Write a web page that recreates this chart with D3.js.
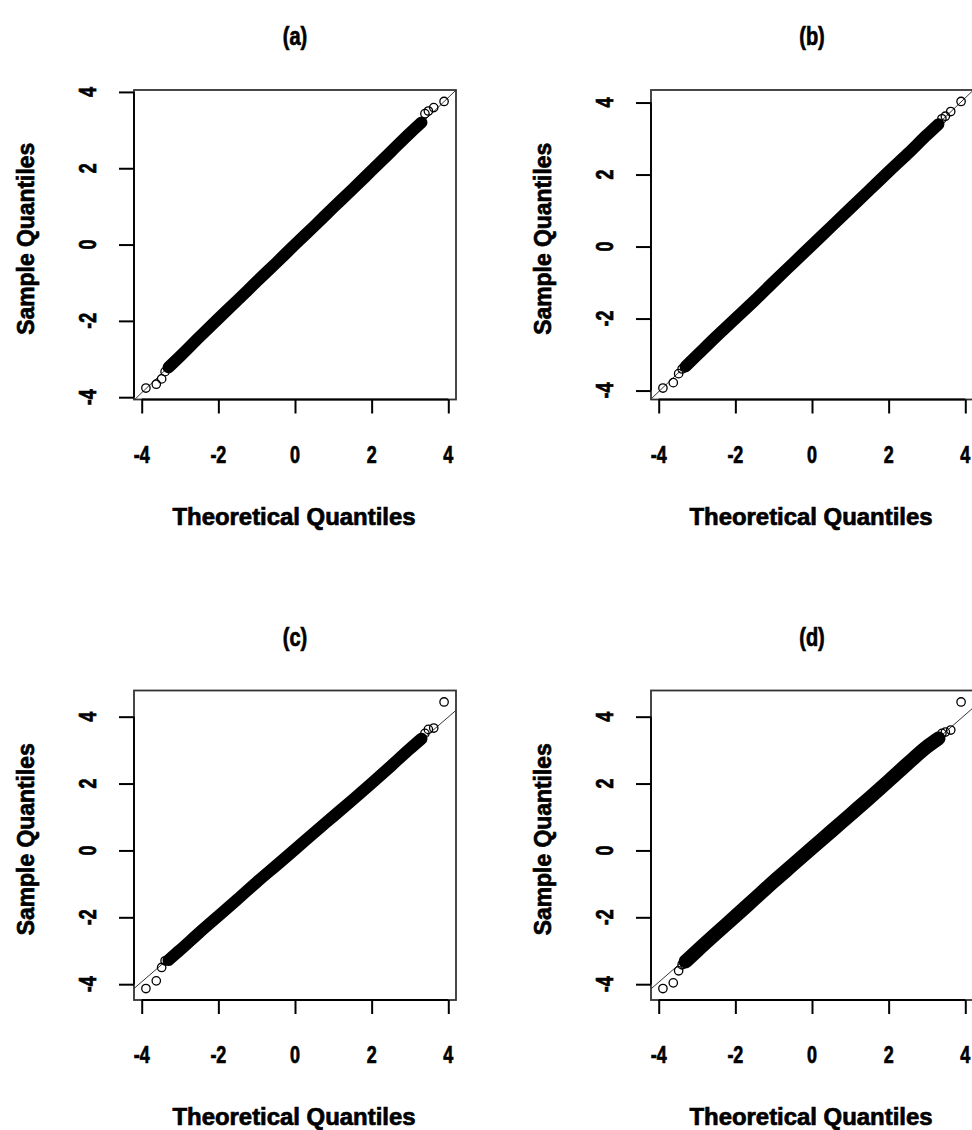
<!DOCTYPE html>
<html><head><meta charset="utf-8">
<script src="https://cdn.jsdelivr.net/npm/d3@7"></script>
<style>body{margin:0;background:#fff}svg{display:block}</style>
</head><body>
<svg id="chart" width="972" height="1130"></svg>
<script>
// ---------- data ----------
const panelTitles = ["(a)", "(b)", "(c)", "(d)"];
const tickValues = [-4, -2, 0, 2, 4];
const xAxisTitle = "Theoretical Quantiles";
const yAxisTitle = "Sample Quantiles";

// dense band (theoretical, sample) read along the middle of the point cloud
const bandTheo = [-3.3, -3, -2.5, -2, -1.5, -1, -0.5, 0, 0.5, 1, 1.5, 2, 2.5, 3, 3.3];
const bandA = [-3.22, -2.93, -2.43, -1.94, -1.46, -0.97, -0.49, 0, 0.48, 0.97, 1.45, 1.94, 2.43, 2.92, 3.2];
const bandB = [-3.33, -3.02, -2.5, -2.0, -1.5, -0.98, -0.47, 0.04, 0.55, 1.06, 1.57, 2.08, 2.58, 3.1, 3.4];
const bandC = [-3.28, -2.98, -2.46, -1.96, -1.46, -0.95, -0.46, 0.03, 0.53, 1.02, 1.51, 2.01, 2.52, 3.04, 3.34];
const bandD = [-3.32, -3.0, -2.48, -1.97, -1.45, -0.93, -0.43, 0.07, 0.57, 1.07, 1.57, 2.08, 2.6, 3.1, 3.35];

// individually visible tail points
const tailTheo = [-3.89, -3.62, -3.48, -3.39, 3.39, 3.48, 3.62, 3.89];
const tailA = [-3.76, -3.66, -3.52, -3.33, 3.43, 3.5, 3.59, 3.75];
const tailB = [-3.93, -3.78, -3.53, -3.4, 3.55, 3.62, 3.75, 4.03];
const tailC = [-4.13, -3.9, -3.5, -3.3, 3.5, 3.62, 3.66, 4.44];
const tailD = [-4.13, -3.96, -3.6, -3.42, 3.5, 3.54, 3.6, 4.44];

// reference line (qqline): slope, intercept
const lineSlope = [0.967, 1.02, 0.99, 1.0];
const lineIntercept = [-0.015, 0.05, 0.03, 0.06];

// ---------- layout ----------
const panelLeft = [134, 651, 134, 651];
const panelTop = [90, 90, 690.5, 690.5];
const panelW = 322, panelH = 309.5;
const bandWidth = [12, 12, 12, 14];
const font = "'Liberation Sans', Arial, sans-serif";

const svg = d3.select("#chart");
const bands = [bandA, bandB, bandC, bandD];
const tails = [tailA, tailB, tailC, tailD];

function rExtend(ext) { const r = ext[1] - ext[0]; return [ext[0] - 0.04 * r, ext[1] + 0.04 * r]; }

function label(g, tx, ty, rot, txt, size, sx) {
  return g.append("text")
    .attr("transform", `translate(${tx},${ty}) rotate(${rot}) scale(${sx},1)`)
    .attr("text-anchor", "middle").attr("font-family", font).attr("font-weight", "bold")
    .attr("font-size", size).attr("fill", "#000")
    .attr("stroke", "#000").attr("stroke-width", 0.7).text(txt);
}

panelTitles.forEach((title, i) => {
  const L = panelLeft[i], T = panelTop[i];
  const xs = d3.extent(bandTheo.concat(tailTheo));
  const ys = d3.extent(bands[i].concat(tails[i]));
  const x = d3.scaleLinear().domain(rExtend(xs)).range([L, L + panelW]);
  const y = d3.scaleLinear().domain(rExtend(ys)).range([T + panelH, T]);
  const g = svg.append("g");

  const cid = "clip" + i;
  g.append("clipPath").attr("id", cid).append("rect")
    .attr("x", L).attr("y", T).attr("width", panelW).attr("height", panelH);
  const inner = g.append("g").attr("clip-path", `url(#${cid})`);

  // qqline
  const [x0, x1] = x.domain();
  inner.append("line")
    .attr("x1", x(x0)).attr("y1", y(lineIntercept[i] + lineSlope[i] * x0))
    .attr("x2", x(x1)).attr("y2", y(lineIntercept[i] + lineSlope[i] * x1))
    .attr("stroke", "#000").attr("stroke-width", 0.8);

  // dense band
  const bandPts = bandTheo.map((t, k) => [t, bands[i][k]]);
  inner.append("path").datum(bandPts)
    .attr("d", d3.line().x(d => x(d[0])).y(d => y(d[1])).curve(d3.curveMonotoneX))
    .attr("fill", "none").attr("stroke", "#000").attr("stroke-width", bandWidth[i])
    .attr("stroke-linecap", "round").attr("stroke-linejoin", "round");

  // tail circles
  inner.selectAll("circle.t").data(tailTheo.map((t, k) => [t, tails[i][k]])).join("circle")
    .attr("cx", d => x(d[0])).attr("cy", d => y(d[1])).attr("r", 4.2)
    .attr("fill", "none").attr("stroke", "#000").attr("stroke-width", 1.3);

  // box
  g.append("rect").attr("x", L).attr("y", T).attr("width", panelW).attr("height", panelH)
    .attr("fill", "none").attr("stroke", "#333").attr("stroke-width", 1.8);

  // x axis
  const xa = g.append("g").attr("transform", `translate(0,${T + panelH})`)
    .call(d3.axisBottom(x).tickValues(tickValues).tickSize(14).tickFormat(""));
  xa.select(".domain").attr("stroke-width", 1.8).attr("d", `M${x(-4)},0H${x(4)}`);
  xa.selectAll(".tick line").attr("stroke-width", 2);
  tickValues.forEach(v => label(g, x(v), T + panelH + 63, 0, v, 23, 0.78));

  // y axis
  const ya = g.append("g").attr("transform", `translate(${L},0)`)
    .call(d3.axisLeft(y).tickValues(tickValues).tickSize(15).tickFormat(""));
  ya.select(".domain").attr("stroke-width", 1.8).attr("d", `M0,${y(-4)}V${y(4)}`);
  ya.selectAll(".tick line").attr("stroke-width", 2);
  tickValues.forEach(v => label(g, L - 38, y(v), -90, v, 23, 0.78));

  // titles
  label(g, L + panelW / 2, T - 45, 0, title, 25, 0.8);
  label(g, L + panelW / 2 - 1, T + panelH + 125, 0, xAxisTitle, 23, 1)
    .attr("textLength", 243).attr("lengthAdjust", "spacingAndGlyphs");
  label(g, L - 100, T + panelH / 2 - 6, -90, yAxisTitle, 23, 1)
    .attr("textLength", 192).attr("lengthAdjust", "spacingAndGlyphs");
});
</script>
</body></html>
